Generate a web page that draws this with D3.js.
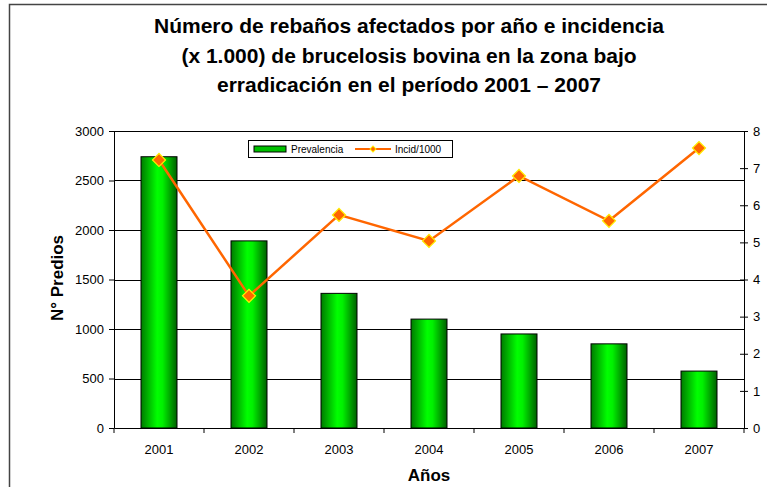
<!DOCTYPE html>
<html>
<head>
<meta charset="utf-8">
<script src="https://cdn.jsdelivr.net/npm/d3@7"></script>
<style>
	body { margin: 0; background: #fff; }
	svg { font-family: Arial, "Liberation Sans", sans-serif; display: block; }
</style>
</head>
<body>
<div id="chart"></div>
<script>
var years = ["2001", "2002", "2003", "2004", "2005", "2006", "2007"];
var prevalencia = [2740, 1890, 1360, 1100, 950, 850, 575];
var incid = [7.22, 3.56, 5.74, 5.04, 6.79, 5.58, 7.54];
var leftTicks = [0, 500, 1000, 1500, 2000, 2500, 3000];
var rightTicks = [0, 1, 2, 3, 4, 5, 6, 7, 8];
var titleLines = ["Número de rebaños afectados por año e incidencia",
	"(x 1.000) de brucelosis bovina en la zona bajo",
	"erradicación en el período 2001 – 2007"];

var W = 767, H = 487,
	margin = {top: 131, right: 23, bottom: 59, left: 114},
	width = W - margin.left - margin.right,
	height = H - margin.top - margin.bottom;

var svg = d3.select("#chart").append("svg")
	.attr("width", W)
	.attr("height", H);

// outer frame (runs off the right and bottom edges)
svg.append("rect")
	.attr("x", 9.5).attr("y", 4.5)
	.attr("width", W + 10).attr("height", H + 10)
	.attr("fill", "#fff").attr("stroke", "#444").attr("stroke-width", 1.5);

var defs = svg.append("defs");
var grad = defs.append("linearGradient")
	.attr("id", "barGrad")
	.attr("x1", "0%").attr("x2", "100%").attr("y1", "0%").attr("y2", "0%");
grad.append("stop").attr("offset", "0%").attr("stop-color", "#007a00");
grad.append("stop").attr("offset", "45%").attr("stop-color", "#00ff00");
grad.append("stop").attr("offset", "60%").attr("stop-color", "#00f000");
grad.append("stop").attr("offset", "100%").attr("stop-color", "#006000");

var xc = d3.scaleBand().domain(years).range([0, width]);
var y = d3.scaleLinear().domain([0, 3000]).range([height, 0]);
var y2 = d3.scaleLinear().domain([0, 8]).range([height, 0]);

var g = svg.append("g").attr("transform", "translate(" + margin.left + "," + margin.top + ")");

/* gridlines */
g.selectAll(".grid").data(leftTicks.slice(1))
	.enter().append("line")
	.attr("x1", 0).attr("x2", width)
	.attr("y1", function(d){ return Math.round(y(d)) + 0.5; })
	.attr("y2", function(d){ return Math.round(y(d)) + 0.5; })
	.attr("stroke", "#000").attr("stroke-width", 1);

/* bars */
g.selectAll(".bar").data(prevalencia)
	.enter().append("rect")
	.attr("class", "bar")
	.attr("x", function(d, i){ return xc(years[i]) + xc.bandwidth() / 2 - 18; })
	.attr("width", 36)
	.attr("y", function(d){ return y(d); })
	.attr("height", function(d){ return height - y(d); })
	.attr("fill", "url(#barGrad)")
	.attr("stroke", "#000").attr("stroke-width", 1);

/* axes */
var axL = g.append("g")
	.call(d3.axisLeft(y).tickValues(leftTicks).tickFormat(d3.format("d")).tickSize(5).tickSizeOuter(0));
var axR = g.append("g")
	.attr("transform", "translate(" + width + ",0)")
	.call(d3.axisRight(y2).tickValues(rightTicks).tickFormat(d3.format("d")).tickSize(4).tickSizeOuter(0));
axR.selectAll(".tick line").attr("x1", -4).attr("x2", 4);
var axB = g.append("g")
	.attr("transform", "translate(0," + height + ")")
	.call(d3.axisBottom(xc).tickSize(0).tickSizeOuter(0));
// category separator ticks
g.selectAll(".sep").data(d3.range(0, years.length + 1))
	.enter().append("line")
	.attr("x1", function(d){ return d * xc.step(); })
	.attr("x2", function(d){ return d * xc.step(); })
	.attr("y1", height).attr("y2", height + 5)
	.attr("stroke", "#000");

[axL, axR, axB].forEach(function(a){
	a.selectAll("path").attr("stroke", "#000");
	a.selectAll("line").attr("stroke", "#000");
	a.selectAll("text").attr("font-size", 13).attr("fill", "#000").attr("font-family", "Arial, 'Liberation Sans', sans-serif");
});
axL.selectAll("text").attr("x", -10);
axR.selectAll("text").attr("x", 9);
axB.selectAll("text").attr("dy", "1.75em");

/* line */
var line = d3.line()
	.x(function(d, i){ return xc(years[i]) + xc.bandwidth() / 2; })
	.y(function(d){ return y2(d); });

g.append("path").datum(incid)
	.attr("d", line)
	.attr("fill", "none")
	.attr("stroke", "#ff6600")
	.attr("stroke-width", 2.5);

g.selectAll(".dot").data(incid)
	.enter().append("path")
	.attr("d", d3.symbol().type(d3.symbolSquare).size(85))
	.attr("transform", function(d, i){ return "translate(" + (xc(years[i]) + xc.bandwidth() / 2) + "," + y2(d) + ") rotate(45)"; })
	.attr("fill", "#ff6600")
	.attr("stroke", "#ffee00").attr("stroke-width", 1.2);

/* legend */
var lg = svg.append("g").attr("transform", "translate(248,140)");
lg.append("rect").attr("x", 0.5).attr("y", 0.5).attr("width", 204).attr("height", 17)
	.attr("fill", "#fff").attr("stroke", "#000");
lg.append("rect").attr("x", 6).attr("y", 6).attr("width", 32).attr("height", 6)
	.attr("fill", "#00c000").attr("stroke", "#000");
lg.append("text").attr("x", 43).attr("y", 13).attr("font-size", 10).text("Prevalencia");
lg.append("line").attr("x1", 107).attr("x2", 143).attr("y1", 9).attr("y2", 9)
	.attr("stroke", "#ff6600").attr("stroke-width", 2);
lg.append("path").attr("d", d3.symbol().type(d3.symbolSquare).size(18))
	.attr("transform", "translate(125,9) rotate(45)")
	.attr("fill", "#ff6600").attr("stroke", "#ffee00");
lg.append("text").attr("x", 147).attr("y", 13).attr("font-size", 10).text("Incid/1000");

/* titles */
svg.append("text")
	.attr("text-anchor", "middle")
	.attr("font-size", 21).attr("font-weight", "bold")
	.selectAll("tspan").data(titleLines).enter().append("tspan")
	.attr("x", 409)
	.attr("y", function(d, i){ return 33 + i * 29.5; })
	.text(function(d){ return d; });

svg.append("text")
	.attr("transform", "translate(63," + 278 + ") rotate(-90)")
	.attr("text-anchor", "middle")
	.attr("font-size", 17).attr("font-weight", "bold")
	.text("N° Predios");

svg.append("text")
	.attr("x", 429)
	.attr("y", 481)
	.attr("text-anchor", "middle")
	.attr("font-size", 17).attr("font-weight", "bold")
	.text("Años");
</script>
</body>
</html>
